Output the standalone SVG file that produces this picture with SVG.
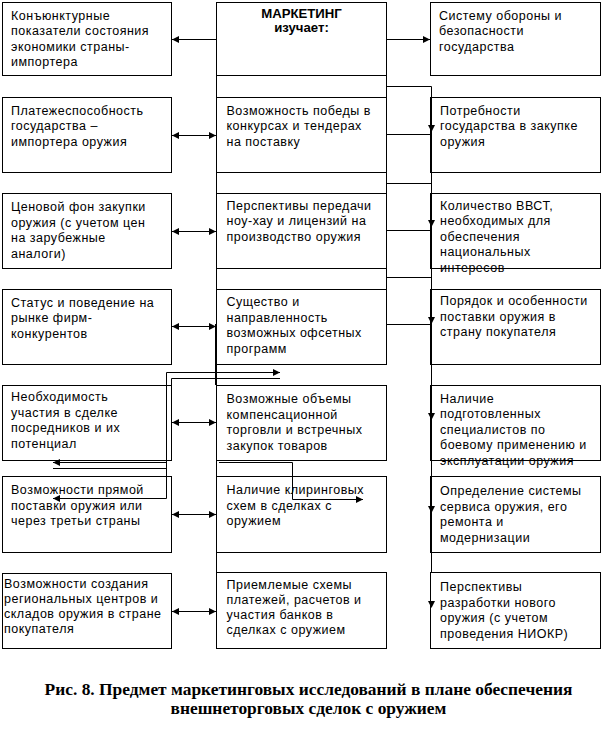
<svg xmlns="http://www.w3.org/2000/svg" xmlns:xlink="http://www.w3.org/1999/xlink" width="604" height="734" viewBox="0 0 604 734">
<style>
.box{fill:#fff;stroke:#000;stroke-width:1}
.t{font-family:"Liberation Sans",Arial,sans-serif;font-size:12.5px;letter-spacing:0.5px;fill:#000}
.tb{font-family:"Liberation Sans",Arial,sans-serif;font-size:13.2px;font-weight:bold;fill:#000}
.cap{font-family:"Liberation Serif","Times New Roman",serif;font-size:17.4px;font-weight:bold;fill:#000}
.ln{fill:none;stroke:#000;stroke-width:1}
.arr{marker-end:url(#ah)}
.dbl{marker-start:url(#ah);marker-end:url(#ah)}
</style>
<defs>
<marker id="ah" markerUnits="userSpaceOnUse" markerWidth="8" markerHeight="8" refX="7" refY="3.5" orient="auto-start-reverse" viewBox="0 0 8 8">
<path d="M0,0 L7,3.5 L0,7 z" fill="#000"/>
</marker>
<path id="dn" d="M-3.5,-7 L3.5,-7 L0,0 z" fill="#000"/>
</defs>
<rect width="604" height="734" fill="#fff"/>

<g id="left-1"><rect class="box" x="2.5" y="2.5" width="169" height="73"/>
<text class="t" x="11" y="19.5"><tspan x="11">Конъюнктурные</tspan><tspan x="11" dy="15.5">показатели состояния</tspan><tspan x="11" dy="15.5">экономики страны-</tspan><tspan x="11" dy="15.5">импортера</tspan></text></g>
<g id="left-2"><rect class="box" x="2.5" y="97.5" width="169" height="75"/>
<text class="t" x="11" y="114.5"><tspan x="11">Платежеспособность</tspan><tspan x="11" dy="15.5">государства –</tspan><tspan x="11" dy="15.5">импортера оружия</tspan></text></g>
<g id="left-3"><rect class="box" x="2.5" y="193.5" width="169" height="75"/>
<text class="t" x="11" y="211"><tspan x="11">Ценовой фон закупки</tspan><tspan x="11" dy="15.5">оружия (с учетом цен</tspan><tspan x="11" dy="15.5">на зарубежные</tspan><tspan x="11" dy="15.5">аналоги)</tspan></text></g>
<g id="left-4"><rect class="box" x="2.5" y="289.5" width="169" height="75"/>
<text class="t" x="11" y="306.5"><tspan x="11">Статус и поведение на</tspan><tspan x="11" dy="15.5">рынке фирм-</tspan><tspan x="11" dy="15.5">конкурентов</tspan></text></g>
<g id="left-5"><rect class="box" x="2.5" y="385.5" width="169" height="75"/>
<text class="t" x="11" y="401"><tspan x="11">Необходимость</tspan><tspan x="11" dy="15.5">участия в сделке</tspan><tspan x="11" dy="15.5">посредников и их</tspan><tspan x="11" dy="15.5">потенциал</tspan></text></g>
<g id="left-6"><rect class="box" x="2.5" y="476.5" width="169" height="76"/>
<text class="t" x="11" y="494"><tspan x="11">Возможности прямой</tspan><tspan x="11" dy="15.5">поставки оружия или</tspan><tspan x="11" dy="15.5">через третьи страны</tspan></text></g>
<g id="left-7"><rect class="box" x="2.5" y="573.5" width="169" height="75"/>
<text class="t" x="4" y="587.5"><tspan x="4">Возможности создания</tspan><tspan x="4" dy="15.3">региональных центров и</tspan><tspan x="4" dy="15.3">складов оружия в стране</tspan><tspan x="4" dy="15.3">покупателя</tspan></text></g>

<g id="center-1"><rect class="box" x="216.5" y="2.5" width="170" height="73"/>
<text class="tb" x="301.5" y="17.5" text-anchor="middle">МАРКЕТИНГ</text>
<text class="tb" x="301.5" y="31.5" text-anchor="middle">изучает:</text></g>
<g id="center-2"><rect class="box" x="216.5" y="97.5" width="170" height="75"/>
<text class="t" x="226.5" y="114.5"><tspan x="226.5">Возможность победы в</tspan><tspan x="226.5" dy="15.5">конкурсах и тендерах</tspan><tspan x="226.5" dy="15.5">на поставку</tspan></text></g>
<g id="center-3"><rect class="box" x="216.5" y="193.5" width="170" height="75"/>
<text class="t" x="226.5" y="209.5"><tspan x="226.5">Перспективы передачи</tspan><tspan x="226.5" dy="15.5">ноу-хау и лицензий на</tspan><tspan x="226.5" dy="15.5">производство оружия</tspan></text></g>
<g id="center-4"><rect class="box" x="216.5" y="289.5" width="170" height="75"/>
<text class="t" x="226.5" y="306"><tspan x="226.5">Существо и</tspan><tspan x="226.5" dy="15.5">направленность</tspan><tspan x="226.5" dy="15.5">возможных офсетных</tspan><tspan x="226.5" dy="15.5">программ</tspan></text></g>
<g id="center-5"><rect class="box" x="216.5" y="385.5" width="170" height="75"/>
<text class="t" x="226.5" y="403"><tspan x="226.5">Возможные объемы</tspan><tspan x="226.5" dy="15.5">компенсационной</tspan><tspan x="226.5" dy="15.5">торговли и встречных</tspan><tspan x="226.5" dy="15.5">закупок товаров</tspan></text></g>
<g id="center-6"><rect class="box" x="216.5" y="476.5" width="170" height="76"/>
<text class="t" x="226.5" y="494"><tspan x="226.5">Наличие клиринговых</tspan><tspan x="226.5" dy="15.5">схем в сделках с</tspan><tspan x="226.5" dy="15.5">оружием</tspan></text></g>
<g id="center-7"><rect class="box" x="216.5" y="572.5" width="170" height="76"/>
<text class="t" x="226.5" y="588.5"><tspan x="226.5">Приемлемые схемы</tspan><tspan x="226.5" dy="15.3">платежей, расчетов и</tspan><tspan x="226.5" dy="15.3">участия банков в</tspan><tspan x="226.5" dy="15.3">сделках с оружием</tspan></text></g>

<g id="right-1"><rect class="box" x="430.5" y="2.5" width="170" height="73"/>
<text class="t" x="439" y="19.5"><tspan x="439">Систему обороны и</tspan><tspan x="439" dy="15.5">безопасности</tspan><tspan x="439" dy="15.5">государства</tspan></text></g>
<g id="right-2"><rect class="box" x="430.5" y="97.5" width="170" height="75"/>
<text class="t" x="440" y="114.5"><tspan x="440">Потребности</tspan><tspan x="440" dy="15.5">государства в закупке</tspan><tspan x="440" dy="15.5">оружия</tspan></text></g>
<g id="right-3"><rect class="box" x="430.5" y="193.5" width="170" height="75"/>
<text class="t" x="440" y="209.5"><tspan x="440">Количество ВВСТ,</tspan><tspan x="440" dy="15.5">необходимых для</tspan><tspan x="440" dy="15.5">обеспечения</tspan><tspan x="440" dy="15.5">национальных</tspan><tspan x="440" dy="15.5">интересов</tspan></text></g>
<g id="right-4"><rect class="box" x="430.5" y="289.5" width="170" height="75"/>
<text class="t" x="440" y="305"><tspan x="440">Порядок и особенности</tspan><tspan x="440" dy="15.5">поставки оружия в</tspan><tspan x="440" dy="15.5">страну покупателя</tspan></text></g>
<g id="right-5"><rect class="box" x="430.5" y="385.5" width="170" height="75"/>
<text class="t" x="440" y="402.5"><tspan x="440">Наличие</tspan><tspan x="440" dy="15.5">подготовленных</tspan><tspan x="440" dy="15.5">специалистов по</tspan><tspan x="440" dy="15.5">боевому применению и</tspan><tspan x="440" dy="15.5">эксплуатации оружия</tspan></text></g>
<g id="right-6"><rect class="box" x="430.5" y="476.5" width="170" height="76"/>
<text class="t" x="440" y="495"><tspan x="440">Определение системы</tspan><tspan x="440" dy="15.5">сервиса оружия, его</tspan><tspan x="440" dy="15.5">ремонта и</tspan><tspan x="440" dy="15.5">модернизации</tspan></text></g>
<g id="right-7"><rect class="box" x="430.5" y="572.5" width="170" height="76"/>
<text class="t" x="440" y="591"><tspan x="440">Перспективы</tspan><tspan x="440" dy="15.5">разработки нового</tspan><tspan x="440" dy="15.5">оружия (с учетом</tspan><tspan x="440" dy="15.5">проведения НИОКР)</tspan></text></g>

<g id="connectors">
<path class="ln" d="M216.5,2.5 V648.5"/>
<path class="ln" d="M386.5,2.5 V364.5"/>
<path class="ln" d="M215.5,324 V385"/>
<path class="ln arr" d="M216.5,39.5 H172"/>
<path class="ln arr" d="M386.5,39.5 H430"/>
<path class="ln dbl" d="M172,135.5 H216"/>
<path class="ln dbl" d="M172,231.5 H216"/>
<path class="ln dbl" d="M172,326.5 H216"/>
<path class="ln dbl" d="M172,422.5 H216"/>
<path class="ln dbl" d="M172,514.5 H216"/>
<path class="ln dbl" d="M172,611.5 H216"/>
<path class="ln" d="M386.5,86.5 H431.5 V572.5"/>
<path class="ln" d="M386.5,134.5 H431.5"/>
<path class="ln" d="M386.5,183.5 H431.5"/>
<path class="ln" d="M386.5,230.5 H431.5"/>
<path class="ln" d="M386.5,277.5 H431.5"/>
<path class="ln" d="M386.5,324.5 H431.5"/>
<use xlink:href="#dn" x="431.5" y="132"/>
<use xlink:href="#dn" x="431.5" y="227"/>
<use xlink:href="#dn" x="431.5" y="324"/>
<use xlink:href="#dn" x="431.5" y="420"/>
<use xlink:href="#dn" x="431.5" y="513"/>
<use xlink:href="#dn" x="431.5" y="608"/>
<path class="ln dbl" d="M280,372.5 H166.5 V498.5 H53"/>
<path class="ln" d="M280,378.5 H171.5 V385.5"/>
<path class="ln arr" d="M166.5,462.5 H53"/>
<path class="ln" d="M166.5,468.5 H53"/>
<path class="ln arr" d="M219,462.5 H292.5 V499.5 H363"/>
</g>

<text class="cap" x="308.5" y="695" text-anchor="middle">Рис. 8. Предмет маркетинговых исследований в плане обеспечения</text>
<text class="cap" x="308.5" y="714" text-anchor="middle">внешнеторговых сделок с оружием</text>
</svg>
